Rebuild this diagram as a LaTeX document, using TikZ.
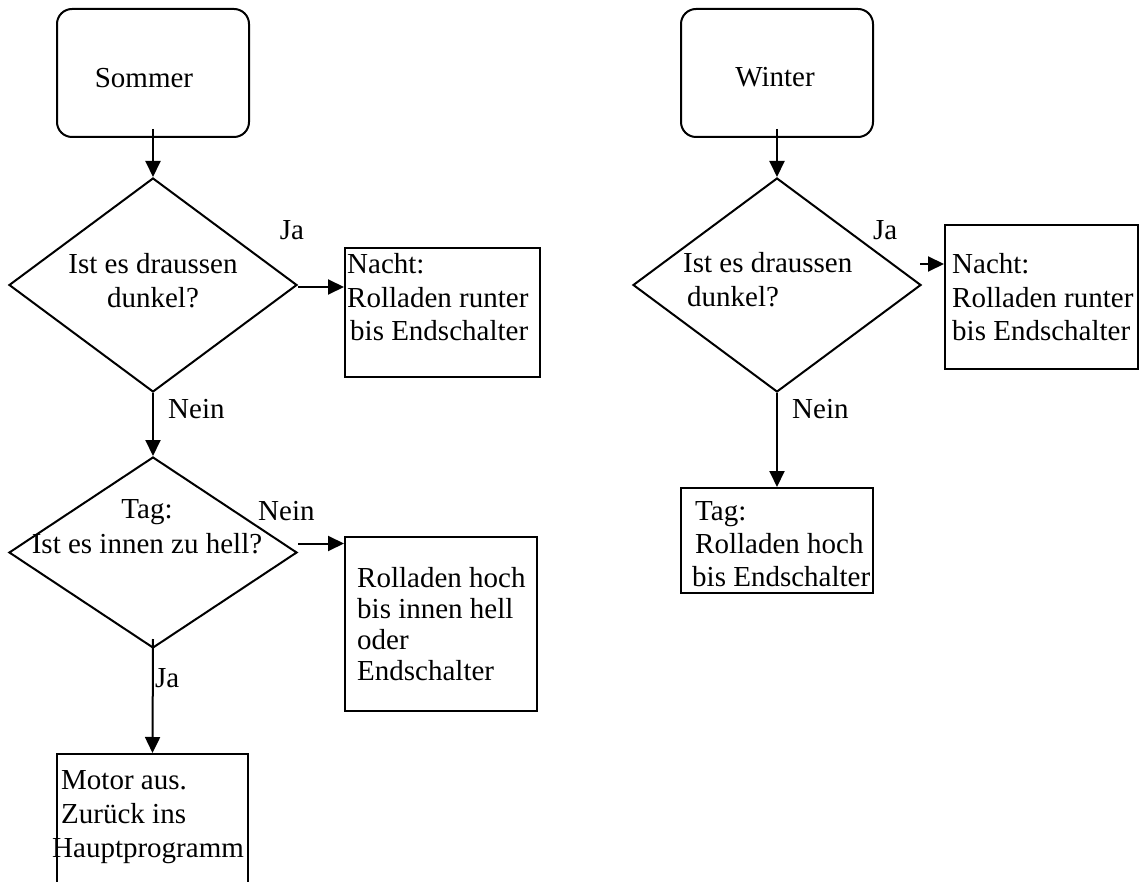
\documentclass[tikz,border=0pt]{standalone}
\usepackage{fontspec}
\setmainfont{Liberation Serif}
\usetikzlibrary{shapes.geometric,arrows.meta}
\newcommand{\llines}[1]{\begin{tabular}[t]{@{}l@{}}#1\end{tabular}}
\newcommand{\clines}[1]{\begin{tabular}[t]{@{}c@{}}#1\end{tabular}}
\tikzset{
  line/.style={draw=black, line width=2pt},
  arr/.style={line, -{Triangle[length=16pt,width=15pt]}},
  startbox/.style={line, rectangle, rounded corners=15pt, inner sep=0pt},
  procbox/.style={line, rectangle, inner sep=0pt},
  decision/.style={line, diamond, inner sep=0pt, minimum width=288pt, minimum height=214pt},
  txt/.style={inner sep=0pt, font=\fontsize{29}{33}\selectfont},
}
\begin{document}
\begin{tikzpicture}[x=1pt,y=-1pt]
\useasboundingbox (0,0) rectangle (1146,882);
\clip (0,0) rectangle (1146,882);

% ---------- Sommer ----------
\node[startbox, minimum width=192pt, minimum height=128pt] (som) at (153,73) {};
\node[txt, anchor=base] (tsom) at (144,88) {Sommer};

\node[decision] (d1) at (153,285) {};
\node[txt, anchor=base, font=\fontsize{29}{34}\selectfont] (td1) at (153,274) {\clines{Ist es draussen\\dunkel?}};

\node[procbox, minimum width=195pt, minimum height=129pt] (n1) at (442.5,312.5) {};
\node[txt, anchor=base west, font=\fontsize{29}{33.5}\selectfont] (tn1) at (347,274) {\llines{Nacht:\\Rolladen runter\\\hspace*{3pt}bis Endschalter}};

\node[decision, minimum height=191pt] (d2) at (153,552.5) {};
\node[txt, anchor=base, font=\fontsize{29}{35}\selectfont] (td2) at (147,518) {\clines{Tag:\\Ist es innen zu hell?}};

\node[procbox, minimum width=192pt, minimum height=174pt] (n2) at (441,624) {};
\node[txt, anchor=base west, font=\fontsize{29}{31}\selectfont] (tn2) at (357,587) {\llines{Rolladen hoch\\bis innen hell\\oder\\Endschalter}};

\node[procbox, minimum width=191pt, minimum height=146pt] (n3) at (152.5,827) {};
\node[txt, anchor=base west, font=\fontsize{29}{34}\selectfont] (tn3) at (61,789) {\llines{Motor aus.\\Zurück ins\\\hspace*{-9pt}Hauptprogramm}};

\draw[arr] ([yshift=9pt]som.south) -- (d1.north);
\draw[arr] ([yshift=-2pt]d1.east) -- ([yshift=-2pt]d1.east -| n1.west);
\draw[arr] (d1.south) -- (d2.north);
\draw[arr] ([yshift=9pt]d2.east) -- ([yshift=9pt]d2.east -| n2.west);
\draw[arr] ([yshift=10pt]d2.south) -- (n3.north);

\node[txt, anchor=base] (ja1) at (292,240) {Ja};
\node[txt, anchor=base west] (nein1) at (168,418) {Nein};
\node[txt, anchor=base west] (nein2) at (258,520) {Nein};
\node[txt, anchor=base west] (ja2) at (155,687) {Ja};

% ---------- Winter ----------
\node[startbox, minimum width=192pt, minimum height=128pt] (wint) at (777,73) {};
\node[txt, anchor=base] (twin) at (775,87) {Winter};

\node[decision] (dw) at (777,285) {};
\node[txt, anchor=base west, font=\fontsize{29}{34}\selectfont] (tdw) at (683,273) {\llines{Ist es draussen\\\hspace*{4pt}dunkel?}};

\node[procbox, minimum width=193pt, minimum height=144pt] (nw) at (1041.5,297) {};
\node[txt, anchor=base west, font=\fontsize{29}{33.5}\selectfont] (tnw) at (952,274) {\llines{Nacht:\\Rolladen runter\\bis Endschalter}};

\node[procbox, minimum width=192pt, minimum height=105pt] (tw) at (777,540.5) {};
\node[txt, anchor=base west, font=\fontsize{29}{33}\selectfont] (ttw) at (695,520) {\llines{Tag:\\Rolladen hoch\\\hspace*{-3pt}bis Endschalter}};

\coordinate (wa) at (920,264);
\draw[arr] ([yshift=9pt]wint.south) -- (dw.north);
\draw[arr] (wa) -- (wa -| nw.west);
\draw[arr] (dw.south) -- (tw.north);

\node[txt, anchor=base west] (jaw) at (873,240) {Ja};
\node[txt, anchor=base west] (neinw) at (792,418) {Nein};
\end{tikzpicture}
\end{document}
